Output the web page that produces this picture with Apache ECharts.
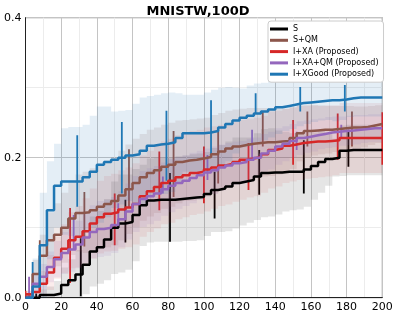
<!DOCTYPE html>
<html><head><meta charset="utf-8">
<script src="https://cdn.jsdelivr.net/npm/echarts@6/dist/echarts.min.js"></script>
<style>html,body{margin:0;padding:0;background:#fff}#c{width:396px;height:316px}</style>
</head><body><div id="c"></div>
<script>
// ---- data ----
const title = 'MNISTW,100D';
const xTicks = [0,20,40,60,80,100,120,140,160,180,200];
const yTicks = [0.0,0.2,0.4];
const xs = [0,4,8,12,16,20,24,28,32,36,40,44,48,52,56,60,64,68,72,76,80,84,88,92,96,100,104,108,112,116,120,124,128,132,136,140,144,148,152,156,160,164,168,172,176,180,184,188,192,196,200];

const names = ['S','S+QM','I+XA (Proposed)','I+XA+QM (Proposed)','I+XGood (Proposed)'];
const colors = ['#000000','#8c564b','#d62728','#9467bd','#1f77b4'];
const bandColors = ['rgba(0,0,0,0.10)','rgba(140,86,75,0.13)','rgba(214,39,40,0.09)','rgba(148,103,189,0.12)','rgba(31,119,180,0.12)'];

const meanS = [0,0,0.004,0.004,0.006,0.018,0.025,0.033,0.047,0.066,0.072,0.083,0.1,0.106,0.108,0.118,0.132,0.139,0.14,0.14,0.14,0.141,0.142,0.143,0.144,0.148,0.154,0.156,0.159,0.164,0.166,0.168,0.173,0.178,0.179,0.179,0.18,0.18,0.18,0.183,0.188,0.194,0.198,0.2,0.21,0.211,0.211,0.211,0.211,0.211,0.211];
const stdS = [0,0.004,0.008,0.012,0.018,0.025,0.03,0.035,0.042,0.05,0.052,0.058,0.066,0.07,0.068,0.066,0.058,0.06,0.06,0.06,0.06,0.061,0.061,0.062,0.062,0.06,0.06,0.062,0.064,0.065,0.063,0.061,0.062,0.063,0.063,0.06,0.057,0.055,0.054,0.053,0.048,0.044,0.038,0.027,0.036,0.036,0.036,0.036,0.036,0.036,0.036];

const meanSQM = [0.005,0.034,0.06,0.082,0.09,0.1,0.113,0.121,0.122,0.125,0.13,0.134,0.138,0.146,0.155,0.164,0.172,0.178,0.182,0.187,0.19,0.194,0.196,0.197,0.199,0.201,0.205,0.209,0.213,0.216,0.218,0.22,0.221,0.222,0.222,0.223,0.224,0.228,0.235,0.238,0.239,0.24,0.24,0.241,0.242,0.243,0.243,0.244,0.246,0.248,0.249];
const stdSQM = [0.005,0.02,0.03,0.04,0.045,0.05,0.052,0.055,0.058,0.06,0.06,0.062,0.063,0.064,0.064,0.063,0.062,0.062,0.061,0.06,0.06,0.059,0.058,0.058,0.057,0.056,0.056,0.055,0.054,0.053,0.052,0.051,0.05,0.049,0.048,0.047,0.046,0.044,0.04,0.038,0.036,0.035,0.034,0.033,0.032,0.031,0.03,0.029,0.028,0.027,0.026];

const meanXA = [0.005,0.008,0.02,0.036,0.057,0.07,0.082,0.087,0.095,0.106,0.115,0.12,0.122,0.126,0.129,0.134,0.145,0.152,0.158,0.164,0.167,0.172,0.175,0.178,0.18,0.183,0.186,0.189,0.191,0.194,0.197,0.199,0.201,0.205,0.211,0.213,0.217,0.219,0.221,0.222,0.223,0.223,0.224,0.225,0.228,0.228,0.228,0.228,0.228,0.228,0.228];
const stdXA = [0.005,0.01,0.018,0.025,0.03,0.035,0.04,0.044,0.047,0.05,0.052,0.054,0.055,0.056,0.057,0.058,0.058,0.058,0.059,0.059,0.06,0.06,0.06,0.06,0.06,0.06,0.059,0.058,0.058,0.057,0.057,0.056,0.056,0.055,0.055,0.054,0.053,0.053,0.053,0.052,0.052,0.051,0.051,0.05,0.05,0.05,0.05,0.05,0.05,0.05,0.05];

const meanXAQM = [0,0.02,0.03,0.044,0.055,0.064,0.069,0.076,0.086,0.094,0.098,0.1,0.104,0.112,0.123,0.134,0.141,0.145,0.149,0.155,0.16,0.164,0.167,0.171,0.175,0.179,0.182,0.186,0.189,0.192,0.194,0.197,0.2,0.206,0.21,0.216,0.22,0.224,0.228,0.23,0.232,0.234,0.236,0.237,0.238,0.239,0.24,0.241,0.242,0.242,0.243];
const stdXAQM = [0.005,0.012,0.018,0.022,0.026,0.03,0.032,0.034,0.036,0.038,0.04,0.04,0.04,0.04,0.04,0.04,0.04,0.04,0.039,0.038,0.038,0.037,0.036,0.036,0.035,0.034,0.034,0.033,0.032,0.031,0.03,0.03,0.029,0.028,0.027,0.026,0.025,0.024,0.024,0.023,0.023,0.022,0.022,0.022,0.021,0.021,0.021,0.02,0.02,0.02,0.02];

const meanXGood = [0,0.016,0.075,0.125,0.16,0.166,0.166,0.166,0.172,0.18,0.19,0.194,0.197,0.2,0.203,0.205,0.21,0.217,0.219,0.22,0.222,0.228,0.235,0.235,0.235,0.236,0.238,0.243,0.248,0.253,0.257,0.26,0.263,0.266,0.269,0.272,0.274,0.276,0.278,0.279,0.28,0.281,0.282,0.282,0.283,0.285,0.286,0.286,0.286,0.286,0.286];
const stdXGood = [0,0.04,0.075,0.07,0.06,0.076,0.078,0.078,0.075,0.08,0.083,0.079,0.069,0.067,0.065,0.072,0.076,0.071,0.071,0.072,0.071,0.064,0.055,0.055,0.055,0.057,0.059,0.057,0.053,0.047,0.042,0.043,0.043,0.041,0.04,0.038,0.036,0.035,0.033,0.031,0.029,0.028,0.028,0.03,0.029,0.027,0.027,0.027,0.027,0.027,0.027];

// error bars: [x, low, high]
const errS = [[6,0,0.006],[31,0.002,0.085],[56,0.079,0.14],[81,0.08,0.178],[106,0.113,0.18],[131,0.147,0.211],[156,0.149,0.225],[181,0.187,0.24]];
const errSQM = [[8,0.01,0.082],[33,0.073,0.151],[58,0.128,0.212],[83,0.144,0.238],[108,0.163,0.24],[133,0.216,0.266],[158,0.216,0.266],[183,0.216,0.266]];
const errXA = [[0,0,0.01],[25,0.021,0.128],[50,0.075,0.149],[75,0.125,0.209],[100,0.135,0.216],[125,0.154,0.221],[150,0.19,0.254],[175,0.197,0.263],[200,0.19,0.265]];
const errXAQM = [[2,0,0.03],[27,0.068,0.118],[52,0.1,0.135],[77,0.149,0.173],[102,0.168,0.204],[127,0.2,0.24],[152,0.211,0.237],[177,0.228,0.247]];
const errXGood = [[4,0.011,0.051],[29,0.13,0.232],[54,0.149,0.251],[79,0.167,0.267],[104,0.204,0.282],[129,0.263,0.292],[154,0.266,0.301],[179,0.266,0.304]];

const means = [meanS, meanSQM, meanXA, meanXAQM, meanXGood];
const stds = [stdS, stdSQM, stdXA, stdXAQM, stdXGood];
const errs = [errS, errSQM, errXA, errXAQM, errXGood];

// ---- build series ----
const FONT = 'DejaVu Sans';
const series = [];
names.forEach((nm, i) => {
  const bandRows = xs.map((x, k) => [x, means[i][k] - stds[i][k], means[i][k] + stds[i][k]]);
  series.push({
    type: 'custom', name: 'band_' + i, silent: true, clip: true,
    data: bandRows,
    encode: { x: 0, y: [1, 2] },
    renderItem: function (params, api) {
      if (params.dataIndex !== 0) return null;
      const top = [], bot = [];
      for (let k = 0; k < bandRows.length; k++) {
        const r = bandRows[k];
        const xNext = k + 1 < bandRows.length ? bandRows[k + 1][0] : r[0];
        top.push(api.coord([r[0], r[2]]));
        top.push(api.coord([xNext, r[2]]));
        bot.push(api.coord([r[0], r[1]]));
        bot.push(api.coord([xNext, r[1]]));
      }
      const pts = top.concat(bot.reverse());
      return {
        type: 'polygon',
        shape: { points: pts },
        style: { fill: bandColors[i], stroke: null }
      };
    }
  });
  series.push({
    type: 'line', name: nm, step: 'end', symbol: 'none',
    data: xs.map((x, k) => [x, means[i][k]]),
    color: colors[i],
    lineStyle: { color: colors[i], width: 2.5 }
  });
  series.push({
    type: 'custom', name: 'err_' + i, silent: true, clip: true,
    data: errs[i],
    encode: { x: 0, y: [1, 2] },
    renderItem: function (params, api) {
      const p1 = api.coord([api.value(0), api.value(1)]);
      const p2 = api.coord([api.value(0), api.value(2)]);
      return {
        type: 'line',
        shape: { x1: p1[0], y1: p1[1], x2: p2[0], y2: p2[1] },
        style: { stroke: colors[i], lineWidth: 1.8 }
      };
    }
  });
});

const chart = echarts.init(document.getElementById('c'), null, { renderer: 'canvas' });
chart.setOption({
  animation: false,
  backgroundColor: '#fff',
  title: {
    text: title, left: 'center', top: 0,
    textStyle: { fontFamily: FONT, fontSize: 13, fontWeight: 'bold', color: '#000' }
  },
  legend: {
    data: names, orient: 'vertical', left: 268, top: 21,
    icon: 'rect', itemWidth: 18, itemHeight: 3, itemGap: 1.3,
    padding: [3, 5, 3, 2],
    backgroundColor: '#fff', borderColor: '#cccccc', borderWidth: 1, borderRadius: 3,
    textStyle: { fontFamily: FONT, fontSize: 8, lineHeight: 10, color: '#000' },
    selectedMode: false
  },
  grid: { left: 25.5, right: 13.7, top: 17.7, bottom: 18.3, show: true, borderColor: '#777', borderWidth: 1 },
  xAxis: {
    type: 'value', min: xTicks[0], max: xTicks[xTicks.length - 1], interval: 20,
    axisLine: { show: true, lineStyle: { color: '#222', width: 1 } },
    axisTick: { show: false },
    axisLabel: { fontFamily: FONT, fontSize: 11, color: '#000', margin: 4 },
    splitLine: { show: true, lineStyle: { color: '#c4c4c4', width: 1 } },
    minorTick: { show: false, splitNumber: 2 },
    minorSplitLine: { show: true, lineStyle: { color: '#ececec', width: 1 } }
  },
  yAxis: {
    type: 'value', min: yTicks[0], max: yTicks[yTicks.length - 1], interval: 0.2,
    axisLine: { show: true, lineStyle: { color: '#222', width: 1 } },
    axisTick: { show: false },
    axisLabel: { fontFamily: FONT, fontSize: 11, color: '#000', margin: 4, formatter: v => v.toFixed(1) },
    splitLine: { show: true, lineStyle: { color: '#c4c4c4', width: 1 } },
    minorTick: { show: false, splitNumber: 2 },
    minorSplitLine: { show: true, lineStyle: { color: '#ececec', width: 1 } }
  },
  series: series
});
</script>
</body></html>
